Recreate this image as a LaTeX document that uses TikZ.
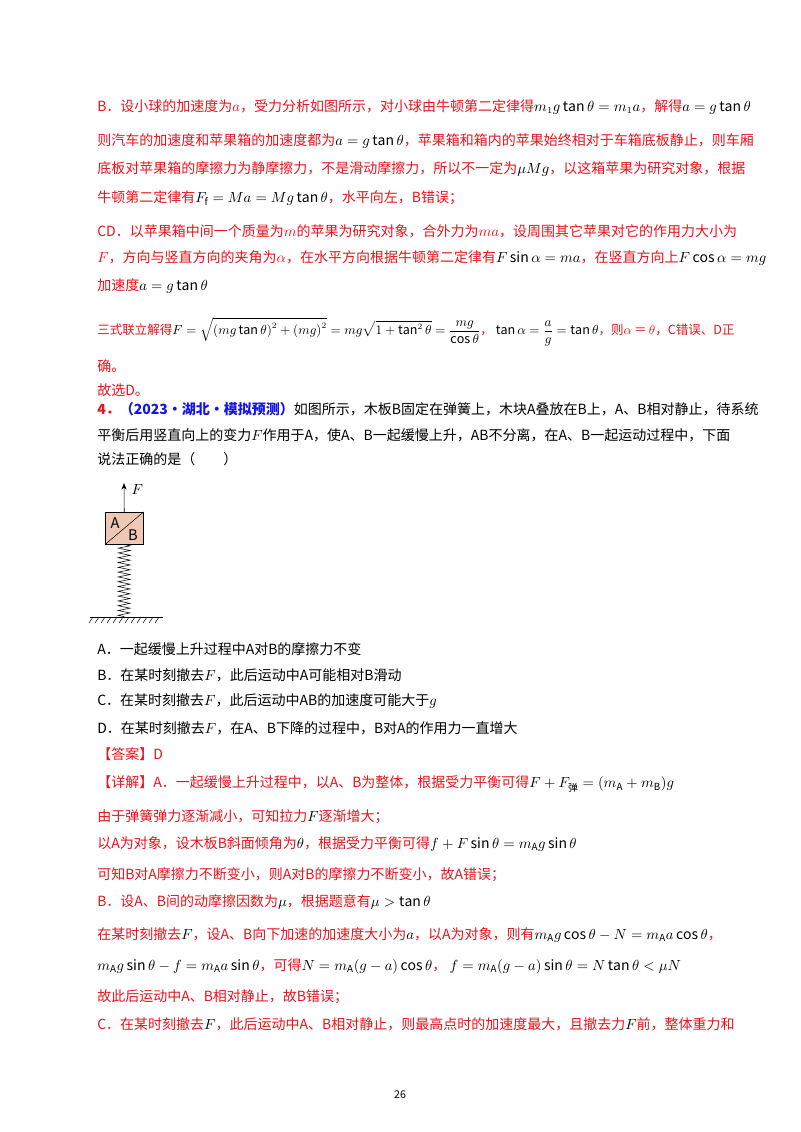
\documentclass[tikz,border=0pt]{standalone}
\usepackage{amsmath}
\usepackage{graphicx}
\usepackage{fontspec}
\setmainfont{Noto Sans CJK SC}
\usetikzlibrary{decorations.pathmorphing,arrows.meta,calc}
\definecolor{rd}{RGB}{232,20,30}
\definecolor{bl}{RGB}{20,20,230}
\definecolor{blk}{RGB}{0,0,0}
\definecolor{peach}{RGB}{238,200,180}
\tikzset{ln/.style={anchor=west,inner sep=0pt,font=\fontsize{10.5}{12}\selectfont},
 r/.style={ln}, k/.style={ln,text=black}}
\newcommand{\bk}[1]{{\color{blk}$#1$}}
\newcommand{\R}[1]{{\color{rd}#1}}
\begin{document}
\begin{tikzpicture}[x=0.75pt,y=-0.75pt]
\useasboundingbox (0,0) rectangle (800,1132);
\fill[white] (0,0) rectangle (800,1132);
\node[r] (l1) at (97,107) {\R{B．设小球的加速度为$a$，受力分析如图所示，对小球由牛顿第二定律得}\bk{m_1g\tan\theta=m_1a}\R{，解得}\bk{a=g\tan\theta}};
\node[r] (l2) at (97,141) {\R{则汽车的加速度和苹果箱的加速度都为}\bk{a=g\tan\theta}\R{，苹果箱和箱内的苹果始终相对于车箱底板静止，则车厢}};
\node[r] (l3) at (97,169) {\R{底板对苹果箱的摩擦力为静摩擦力，不是滑动摩擦力，所以不一定为}\bk{\mu Mg}\R{，以这箱苹果为研究对象，根据}};
\node[r] (l4) at (97,198) {\R{牛顿第二定律有}\bk{F_\mathrm{f}=Ma=Mg\tan\theta}\R{，水平向左，B错误；}};
\node[r] (l5) at (97,231) {\R{CD．以苹果箱中间一个质量为$m$的苹果为研究对象，合外力为$ma$，设周围其它苹果对它的作用力大小为}};
\node[r] (l6) at (97,258) {\R{$F$，方向与竖直方向的夹角为$\alpha$，在水平方向根据牛顿第二定律有}\bk{F\sin\alpha=ma}\R{，在竖直方向上}\bk{F\cos\alpha=mg}};
\node[r] (l7) at (97,286) {\R{加速度}\bk{a=g\tan\theta}};
\node[r] (l8) at (97,332) {\resizebox{478pt}{!}{\R{三式联立解得}\bk{F=\sqrt{\left(mg\tan\theta\right)^2+\left(mg\right)^2}=mg\sqrt{1+\tan^2\theta}=\dfrac{mg}{\cos\theta}}\R{，}\ \bk{\tan\alpha=\dfrac{a}{g}=\tan\theta}\R{，则$\alpha$\,＝\,$\theta$，C错误、D正}}};
\node[r] (l9) at (97,366) {\R{确。}};
\node[r] (l10) at (97,390) {\R{故选D。}};
\node[k] (l11) at (97,409) {\R{\textbf{4．}}{\color{bl}\textbf{（2023·湖北·模拟预测）}}如图所示，木板B固定在弹簧上，木块A叠放在B上，A、B相对静止，待系统};
\node[k] (l12) at (97,435) {平衡后用竖直向上的变力$F$作用于A，使A、B一起缓慢上升，AB不分离，在A、B一起运动过程中，下面};
\node[k] (l13) at (97,459) {说法正确的是（\qquad）};
% diagram
\node[draw,fill=peach,minimum width=28.5pt,minimum height=24pt,inner sep=0pt,anchor=north west] (box) at (105,512) {};
\draw (box.south west) -- (box.north east);
\node[font=\fontsize{11}{12}\selectfont] (lA) at (115,523) {A};
\node[font=\fontsize{11}{12}\selectfont] (lB) at (133,535) {B};
\coordinate (ftop) at (124,483);
\draw[-{Stealth[length=5pt]}] (box.north) -- (ftop);
\node[font=\fontsize{10.5}{12}\selectfont,anchor=west] (lF) at (127,490) {$F$};
\coordinate (g) at (124,617);
\draw[decorate,decoration={zigzag,segment length=3.6pt,amplitude=4.5pt}] (box.south) -- (g);
\coordinate (gl) at (90,617); \coordinate (gr) at (163,617);
\draw (gl) -- (gr);
\foreach \i in {0,...,11} \draw ($(gl)+(3+6*\i,0)$) -- ++(-4,6);
\node[k] (oA) at (97,649) {A．一起缓慢上升过程中A对B的摩擦力不变};
\node[k] (oB) at (97,675) {B．在某时刻撤去$F$，此后运动中A可能相对B滑动};
\node[k] (oC) at (97,701) {C．在某时刻撤去$F$，此后运动中AB的加速度可能大于$g$};
\node[k] (oD) at (97,728) {D．在某时刻撤去$F$，在A、B下降的过程中，B对A的作用力一直增大};
\node[r] (ans) at (97,754) {\R{【答案】D}};
\node[r] (d1) at (97,784) {\R{【详解】A．一起缓慢上升过程中，以A、B为整体，根据受力平衡可得}\bk{F+F_{\text{弹}}=(m_\mathrm{A}+m_\mathrm{B})g}};
\node[r] (d2) at (97,817) {\R{由于弹簧弹力逐渐减小，可知拉力}\bk{F}\R{逐渐增大；}};
\node[r] (d3) at (97,844) {\R{以A为对象，设木板B斜面倾角为}\bk{\theta}\R{，根据受力平衡可得}\bk{f+F\sin\theta=m_\mathrm{A}g\sin\theta}};
\node[r] (d4) at (97,875) {\R{可知B对A摩擦力不断变小，则A对B的摩擦力不断变小，故A错误；}};
\node[r] (d5) at (97,902) {\R{B．设A、B间的动摩擦因数为}\bk{\mu}\R{，根据题意有}\bk{\mu>\tan\theta}};
\node[r] (d6) at (97,935) {\R{在某时刻撤去}\bk{F}\R{，设A、B向下加速的加速度大小为}\bk{a}\R{，以A为对象，则有}\bk{m_\mathrm{A}g\cos\theta-N=m_\mathrm{A}a\cos\theta}\R{，}};
\node[r] (d7) at (97,966) {\bk{m_\mathrm{A}g\sin\theta-f=m_\mathrm{A}a\sin\theta}\R{，可得}\bk{N=m_\mathrm{A}(g-a)\cos\theta}\R{，}\ \bk{f=m_\mathrm{A}(g-a)\sin\theta=N\tan\theta<\mu N}};
\node[r] (d8) at (97,997) {\R{故此后运动中A、B相对静止，故B错误；}};
\node[r] (d9) at (97,1024) {\R{C．在某时刻撤去}\bk{F}\R{，此后运动中A、B相对静止，则最高点时的加速度最大，且撤去力}\bk{F}\R{前，整体重力和}};
\node[font=\fontsize{8}{10}\selectfont] (pg) at (400,1095) {26};
\end{tikzpicture}
\end{document}
